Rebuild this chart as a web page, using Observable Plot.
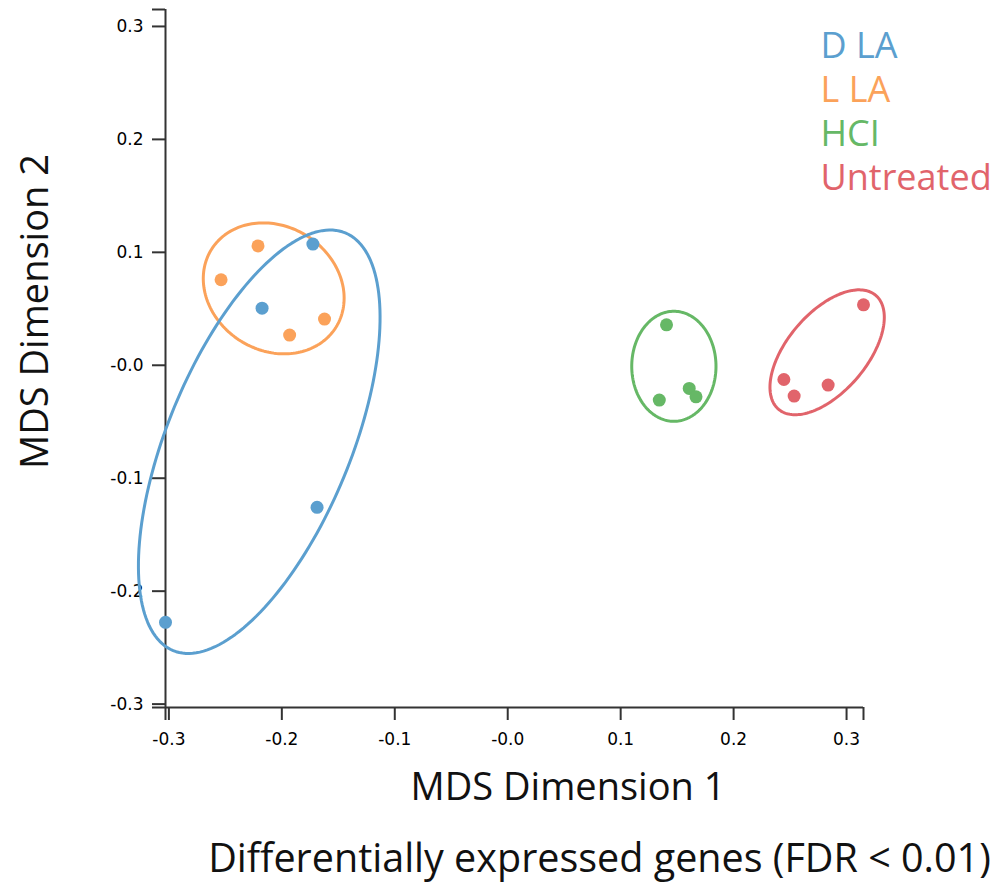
<!DOCTYPE html>
<html>
<head>
<meta charset="utf-8">
<script src="https://cdn.jsdelivr.net/npm/d3@7"></script>
<script src="https://cdn.jsdelivr.net/npm/@observablehq/plot@0.6"></script>
<style>
  html, body { margin: 0; padding: 0; background: #fff; }
  svg { display: block; }
</style>
</head>
<body>
<div id="chart"></div>
<script>
// ---- data ----
const groups = ["D LA", "L LA", "HCI", "Untreated"];
const colors = ["#5b9fcf", "#fba25a", "#66b866", "#e1646b"];

const dlaX = [-0.1725, -0.2175, -0.1688, -0.303];
const dlaY = [0.1073, 0.0506, -0.1258, -0.2276];
const llaX = [-0.2211, -0.2538, -0.1931, -0.1622];
const llaY = [0.1057, 0.0757, 0.0267, 0.0409];
const hciX = [0.1406, 0.1342, 0.1607, 0.1667];
const hciY = [0.0358, -0.0308, -0.0205, -0.0279];
const untX = [0.315, 0.2445, 0.2536, 0.2837];
const untY = [0.0535, -0.0126, -0.0273, -0.0175];

// ellipse parameters (centre, semi-axes, rotation in degrees), in data units
const ellCx = [-0.2200, -0.2072, 0.1471, 0.2828];
const ellCy = [-0.0677, 0.0681, -0.0009, 0.0115];
const ellRx = [0.2000, 0.0650, 0.0487, 0.0663];
const ellRy = [0.0812, 0.0550, 0.0373, 0.0350];
const ellAngle = [67.6, -32, 90, 49.5];

const tickValues = [-0.3, -0.2, -0.1, 0, 0.1, 0.2, 0.3];
const tickLabels = ["-0.3", "-0.2", "-0.1", "-0.0", "0.1", "0.2", "0.3"];

const xTitle = "MDS Dimension 1";
const yTitle = "MDS Dimension 2";
const subTitle = "Differentially expressed genes (FDR < 0.01)";

// ---- build tables ----
const xs = [dlaX, llaX, hciX, untX];
const ys = [dlaY, llaY, hciY, untY];
const points = groups.flatMap((g, i) => xs[i].map((x, j) => ({group: g, x, y: ys[i][j]})));

const ellOrder = [1, 0, 2, 3];
const ellipses = ellOrder.flatMap(i => {
  const a = ellAngle[i] * Math.PI / 180;
  return d3.range(0, 360, 2).map(deg => {
    const t = deg * Math.PI / 180;
    const u = ellRx[i] * Math.cos(t), v = ellRy[i] * Math.sin(t);
    return {group: groups[i], x: ellCx[i] + u * Math.cos(a) - v * Math.sin(a), y: ellCy[i] + u * Math.sin(a) + v * Math.cos(a)};
  });
});

const domain = d3.extent(points, d => d.x);
const fmt = d => { const k = tickValues.findIndex(v => Math.abs(v - d) < 1e-9); return k >= 0 ? tickLabels[k] : ""; };
const axisTicks = [...tickValues, ...domain];

const titleFont = "Open Sans";
const legendMarks = groups.map((g, i) => Plot.text([g], {
  text: d => d, frameAnchor: "top-left", textAnchor: "start", lineAnchor: "middle",
  dx: 655, dy: 36.5 + i * 44.3, fontSize: 36, fontFamily: titleFont, fill: colors[i]
}));

const chart = Plot.plot({
  width: 995,
  height: 884,
  marginTop: 9,
  marginRight: 132,
  marginBottom: 177,
  marginLeft: 165,
  x: {domain},
  y: {domain},
  color: {domain: groups, range: colors},
  style: {fontFamily: "DejaVu Sans", color: "#000", background: "#fff"},
  marks: [
    Plot.axisX({ticks: axisTicks, tickFormat: fmt, tickSize: 13, tickPadding: 12, fontSize: 17, stroke: "#333", strokeWidth: 2, fill: "#000", label: null}),
    Plot.axisY({ticks: axisTicks, tickFormat: fmt, tickSize: 13, tickPadding: 9, fontSize: 17, stroke: "#333", strokeWidth: 2, fill: "#000", label: null}),
    Plot.ruleX([domain[0]], {y1: domain[0], y2: domain[1], stroke: "#333", strokeWidth: 2}),
    Plot.ruleY([domain[0]], {x1: domain[0], x2: domain[1], stroke: "#333", strokeWidth: 2}),
    Plot.line(ellipses, {x: "x", y: "y", z: "group", stroke: "group", strokeWidth: 3, curve: "linear-closed"}),
    Plot.dot(points, {x: "x", y: "y", fill: "group", r: 6.5}),
    Plot.text([xTitle], {text: d => d, frameAnchor: "bottom", textAnchor: "middle", lineAnchor: "middle", dx: 53.5, dy: 80.8, fontSize: 38, fontFamily: titleFont, fill: "#111"}),
    Plot.text([subTitle], {text: d => d, frameAnchor: "bottom", textAnchor: "middle", lineAnchor: "middle", dx: 85, dy: 151.4, fontSize: 39.5, fontFamily: titleFont, fill: "#111"}),
    Plot.text([yTitle], {text: d => d, frameAnchor: "left", textAnchor: "middle", lineAnchor: "middle", rotate: -90, dx: -129.2, dy: -47, fontSize: 38, fontFamily: titleFont, fill: "#111"}),
    ...legendMarks
  ]
});
document.getElementById("chart").appendChild(chart);
</script>
</body>
</html>
